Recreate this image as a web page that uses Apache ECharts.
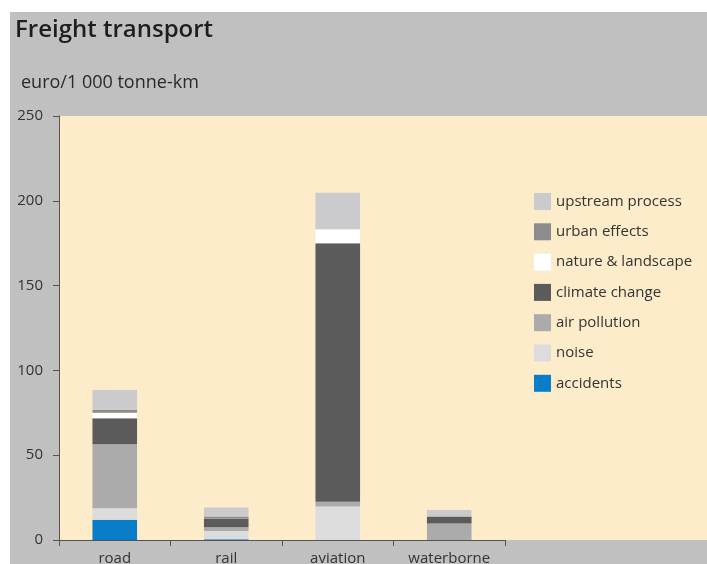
<!DOCTYPE html>
<html>
<head>
<meta charset="utf-8">
<script src="https://cdn.jsdelivr.net/npm/echarts@6/dist/echarts.min.js"></script>
<style>
html,body{margin:0;padding:0;background:#fff;}
#c{width:707px;height:564px;}
</style>
</head>
<body>
<div id="c"></div>
<script>
var categories = ['road', 'rail', 'aviation', 'waterborne'];
var yTicks = [0, 50, 100, 150, 200, 250];

var accidents     = [12.0, 0.5, 0, 0];
var noise         = [6.7, 4.8, 19.7, 0];
var airPollution  = [37.7, 2.2, 2.9, 9.8];
var climateChange = [15.4, 5.3, 152.4, 4.0];
var natureLand    = [3.2, 0.2, 8.2, 0];
var urbanEffects  = [1.8, 0.9, 0, 0];
var upstream      = [11.6, 5.3, 21.6, 3.9];

var seriesNames = ['accidents', 'noise', 'air pollution', 'climate change', 'nature & landscape', 'urban effects', 'upstream process'];
var seriesData = [accidents, noise, airPollution, climateChange, natureLand, urbanEffects, upstream];
var seriesColors = ['#0a7dc8', '#dcdcdc', '#ababab', '#5b5b5b', '#ffffff', '#8c8c8c', '#cbcbcd'];

var font = 'Open Sans';
var chart = echarts.init(document.getElementById('c'), null, {renderer: 'canvas'});

var series = seriesNames.map(function (n, i) {
  return {
    name: n,
    type: 'bar',
    stack: 'total',
    data: seriesData[i],
    barCategoryGap: '60%',
    itemStyle: {color: seriesColors[i]},
    emphasis: {disabled: true}
  };
});

chart.setOption({
  animation: false,
  backgroundColor: '#ffffff',
  graphic: [
    {type: 'rect', z: -10, shape: {x: 10, y: 12, width: 697, height: 552}, style: {fill: '#c0c0c0'}},
    {type: 'rect', z: -9, shape: {x: 59, y: 116, width: 648, height: 424}, style: {fill: '#fdecc9'}},
    {type: 'text', z: 5, left: 15, top: 18, style: {text: 'Freight transport', font: '600 24px "' + font + '"', fill: '#1e1e1e'}},
    {type: 'text', z: 5, left: 21, top: 74, style: {text: 'euro/1 000 tonne-km', font: '18px "' + font + '"', fill: '#2a2a2a'}}
  ],
  grid: {left: 59, right: 202, top: 116, bottom: 24, containLabel: false, outerBoundsMode: 'none'},
  legend: {
    orient: 'vertical',
    left: 529,
    top: 188,
    itemWidth: 17,
    itemHeight: 17,
    itemGap: 13.3,
    icon: 'rect',
    data: seriesNames.slice().reverse(),
    textStyle: {fontFamily: font, fontSize: 15, color: '#333', padding: [0, 0, 0, 0]},
    selectedMode: false
  },
  xAxis: {
    type: 'category',
    data: categories,
    axisLine: {lineStyle: {color: '#555', width: 1}},
    axisTick: {show: true, length: 6, lineStyle: {color: '#555'}},
    axisLabel: {fontFamily: font, fontSize: 15, color: '#333', margin: 11}
  },
  yAxis: {
    type: 'value',
    min: yTicks[0],
    max: yTicks[yTicks.length - 1],
    interval: yTicks[1] - yTicks[0],
    axisLine: {show: true, lineStyle: {color: '#555', width: 1}},
    axisTick: {show: true, length: 6, lineStyle: {color: '#555'}},
    splitLine: {show: false},
    axisLabel: {fontFamily: font, fontSize: 15, color: '#333', margin: 16}
  },
  series: series
});
</script>
</body>
</html>
